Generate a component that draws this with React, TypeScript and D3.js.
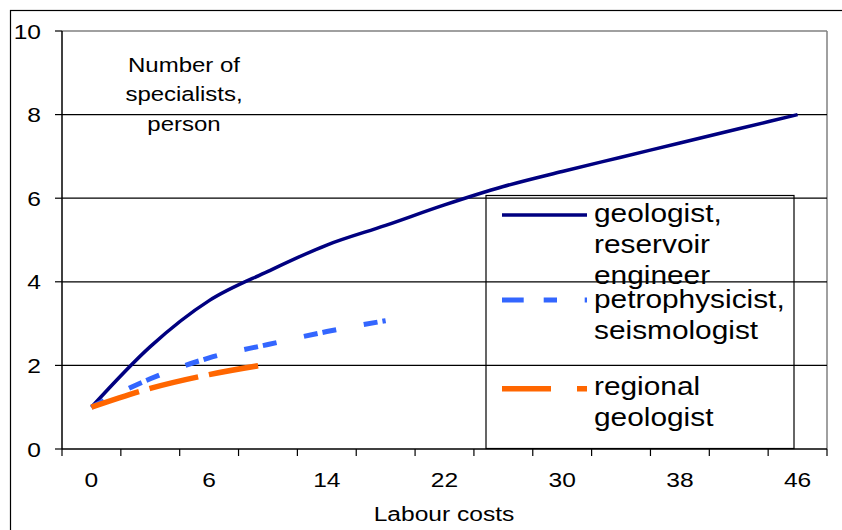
import * as d3 from "d3";

const categories = ["0", "3", "6", "10", "14", "18", "22", "26", "30", "34", "38", "42", "46"];
const geologist = [1.0, 2.45, 3.55, 4.25, 4.88, 5.35, 5.84, 6.28, 6.64, 6.98, 7.32, 7.66, 8.0];
const petrophysicist = [1.0, 1.68, 2.18, 2.5, 2.81, 3.07];
const regional = [1.0, 1.45, 1.78, 2.03];
const yTicks = [0, 2, 4, 6, 8, 10];
const legendLabels = [
  ["geologist,", "reservoir", "engineer"],
  ["petrophysicist,", "seismologist"],
  ["regional", "geologist"],
];

const FONT = "'Liberation Sans', Arial, sans-serif";
const SX = 1.17; // text in the source is a bit stretched horizontally

const SText = ({ x, y, size, anchor = "start", children }: any) => (
  <text
    transform={`translate(${x},${y}) scale(${SX},1)`}
    fontSize={size}
    textAnchor={anchor}
    fontFamily={FONT}
    fill="#000"
  >
    {children}
  </text>
);

const App = () => {
  const width = 842;
  const height = 530;
  const plot = { left: 62, right: 827, top: 31, bottom: 449 };

  const x = d3.scaleBand().domain(categories).range([plot.left, plot.right]).padding(0);
  const y = d3.scaleLinear().domain([0, 10]).range([plot.bottom, plot.top]);
  const cx = (i: number) => x(categories[i])! + x.bandwidth() / 2;

  const line = d3
    .line<number>()
    .x((_, i) => cx(i))
    .y((d) => y(d))
    .curve(d3.curveMonotoneX);

  const series = [
    { data: geologist, color: "#000080", w: 3.5, dash: "none", off: 0, legendDash: "none" },
    { data: petrophysicist, color: "#3366FF", w: 5, dash: "14 5 14 28", off: 19, legendDash: "21.7 20 13.3 27.7" },
    { data: regional, color: "#FF6600", w: 5.5, dash: "50 11", off: 0, legendDash: "49 26" },
  ];

  const tickEdges = [...categories.map((c) => x(c)!), plot.right];

  const legend = { x: 486, y: 195.5, w: 308, h: 253 };
  const sampleY = [215, 300, 388.7];
  const textY = [221.7, 308.3, 395];

  return (
    <svg width={width} height={height} style={{ position: "absolute", left: 0, top: 0 }}>
      <rect x={0} y={0} width={width} height={height} fill="#fff" />
      {/* chart area border */}
      <rect x={10.5} y={10.5} width={width} height={height} fill="none" stroke="#000" strokeWidth={1.2} />

      {/* plot area frame */}
      <line x1={plot.left} x2={plot.right} y1={plot.top} y2={plot.top} stroke="#808080" strokeWidth={1.5} />
      <line x1={plot.right} x2={plot.right} y1={plot.top} y2={plot.bottom} stroke="#808080" strokeWidth={1.5} />

      {/* gridlines */}
      {yTicks.slice(1, -1).map((t) => (
        <line key={t} x1={plot.left} x2={plot.right} y1={y(t)} y2={y(t)} stroke="#000" strokeWidth={1.2} />
      ))}

      {/* y axis */}
      <line x1={plot.left} x2={plot.left} y1={plot.top} y2={plot.bottom} stroke="#000" strokeWidth={1.5} />
      {yTicks.map((t) => (
        <g key={t}>
          <line x1={plot.left - 7} x2={plot.left} y1={y(t)} y2={y(t)} stroke="#000" strokeWidth={1.2} />
          <SText x={41} y={y(t) + 7.5} size={21} anchor="end">
            {t}
          </SText>
        </g>
      ))}

      {/* x axis */}
      <line x1={plot.left} x2={plot.right} y1={plot.bottom} y2={plot.bottom} stroke="#000" strokeWidth={1.5} />
      {tickEdges.map((tx, i) => (
        <line key={i} x1={tx} x2={tx} y1={plot.bottom} y2={plot.bottom + 7} stroke="#000" strokeWidth={1.2} />
      ))}
      {categories.map((c, i) =>
        i % 2 === 0 ? (
          <SText key={c} x={cx(i)} y={487} size={21} anchor="middle">
            {c}
          </SText>
        ) : null
      )}
      <SText x={444} y={521} size={21} anchor="middle">
        Labour costs
      </SText>

      {/* y axis title inside plot */}
      {["Number of", "specialists,", "person"].map((s, i) => (
        <SText key={s} x={184} y={71.5 + i * 29.5} size={20.5} anchor="middle">
          {s}
        </SText>
      ))}

      {/* series */}
      {series.map((s, k) => (
        <path
          key={k}
          d={line(s.data)!}
          fill="none"
          stroke={s.color}
          strokeWidth={s.w}
          strokeDasharray={s.dash}
          strokeDashoffset={s.off}
          strokeLinejoin="round"
        />
      ))}

      {/* legend */}
      <rect x={legend.x} y={legend.y} width={legend.w} height={legend.h} fill="none" stroke="#000" strokeWidth={1.2} />
      {series.map((s, k) => (
        <g key={k}>
          <line
            x1={502}
            x2={587}
            y1={sampleY[k]}
            y2={sampleY[k]}
            stroke={s.color}
            strokeWidth={s.w}
            strokeDasharray={s.legendDash}
          />
          {legendLabels[k].map((t, j) => (
            <SText key={j} x={594} y={textY[k] + j * 31} size={25.5}>
              {t}
            </SText>
          ))}
        </g>
      ))}
    </svg>
  );
};

export default App;
